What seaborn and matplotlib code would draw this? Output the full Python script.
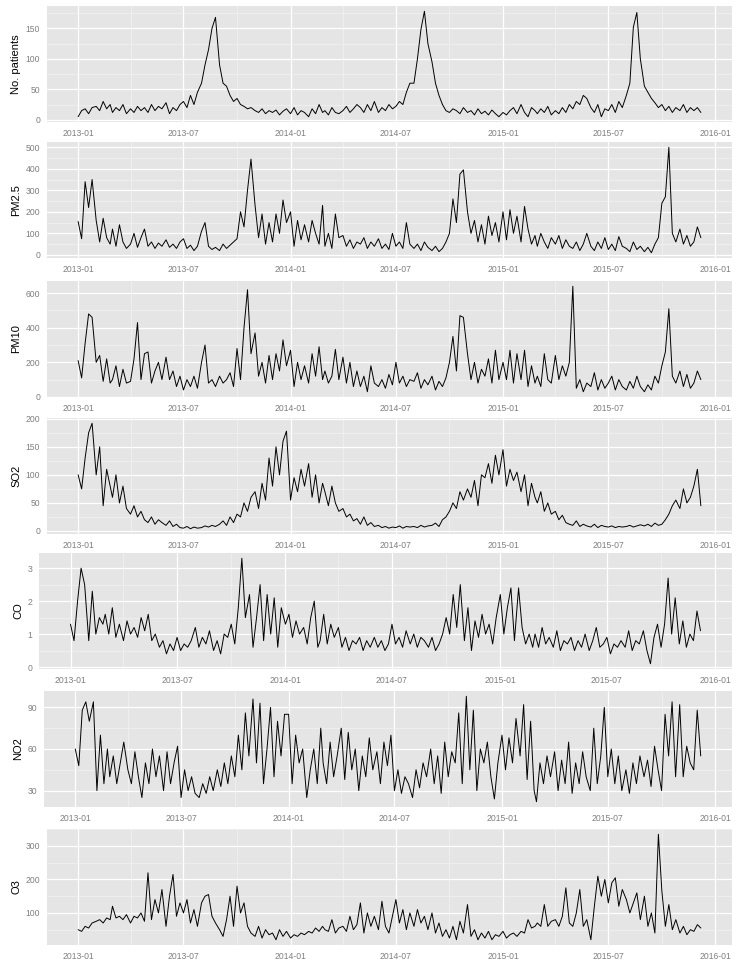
import matplotlib

matplotlib.use("Agg")

import matplotlib.dates as mdates
import matplotlib.pyplot as plt
import pandas as pd
import seaborn as sns
from matplotlib.ticker import MultipleLocator

# five readings per month (days 1, 7, 13, 19, 25), Jan 2013 .. early Dec 2015
MONTHS = pd.date_range("2013-01-01", "2015-12-01", freq="MS")
SAMPLE_DAYS = [1, 7, 13, 19, 25]

PATIENTS = [
    5, 15, 18, 10, 20, 22, 15, 30, 18, 25,
    12, 20, 15, 25, 10, 18, 12, 22, 15, 20,
    12, 25, 15, 22, 18, 28, 10, 20, 15, 25,
    30, 20, 40, 25, 45, 60, 90, 115, 150, 168,
    90, 60, 55, 40, 30, 35, 25, 22, 18, 20,
    15, 12, 18, 10, 15, 12, 16, 8, 14, 18,
    10, 20, 8, 15, 12, 5, 18, 10, 25, 12,
    15, 8, 20, 12, 10, 15, 22, 12, 18, 25,
    20, 12, 25, 15, 30, 12, 20, 15, 25, 18,
    22, 30, 25, 45, 60, 60, 100, 148, 178, 125,
    95, 60, 40, 25, 15, 12, 18, 15, 10, 20,
    12, 15, 8, 18, 10, 14, 8, 16, 10, 5,
    12, 8, 15, 20, 10, 25, 12, 5, 20, 15,
    10, 18, 12, 22, 8, 15, 10, 20, 12, 25,
    18, 30, 25, 40, 35, 20, 12, 25, 5, 18,
    15, 25, 12, 30, 20, 40, 60, 152, 176, 100,
    55, 45, 35, 28, 20, 25, 15, 22, 12, 20,
    15, 25, 12, 20, 15, 20, 12,
]

PM25 = [
    155, 75, 340, 220, 350, 160, 60, 170, 80, 50,
    120, 40, 140, 60, 30, 50, 100, 35, 80, 120,
    40, 60, 30, 55, 40, 70, 35, 50, 30, 60,
    75, 30, 45, 20, 40, 110, 150, 40, 25, 35,
    20, 50, 30, 45, 60, 75, 200, 130, 300, 445,
    230, 80, 190, 50, 150, 60, 190, 100, 255, 150,
    200, 40, 160, 70, 140, 60, 160, 100, 50, 230,
    40, 100, 30, 190, 80, 90, 40, 70, 30, 60,
    50, 80, 30, 60, 40, 75, 30, 50, 25, 100,
    40, 60, 30, 150, 50, 30, 50, 20, 60, 35,
    20, 40, 15, 30, 60, 100, 260, 150, 375, 395,
    200, 100, 160, 60, 140, 50, 180, 90, 150, 60,
    200, 70, 210, 100, 180, 60, 225, 120, 50, 90,
    40, 100, 60, 30, 80, 50, 90, 30, 70, 40,
    30, 60, 20, 50, 100, 40, 20, 60, 30, 80,
    25, 50, 20, 85, 40, 30, 15, 60, 25, 40,
    15, 35, 10, 50, 80, 240, 270, 500, 100, 60,
    120, 50, 90, 40, 60, 130, 80,
]

PM10 = [
    210, 110, 310, 480, 460, 200, 240, 90, 220, 80,
    100, 180, 60, 160, 80, 90, 220, 430, 100, 250,
    260, 80, 150, 200, 100, 230, 100, 150, 60, 120,
    40, 100, 60, 120, 50, 200, 300, 80, 100, 60,
    120, 80, 100, 140, 60, 280, 100, 400, 620, 250,
    370, 120, 200, 80, 240, 100, 250, 150, 330, 180,
    270, 60, 200, 100, 180, 80, 250, 120, 290, 100,
    150, 80, 120, 275, 100, 230, 80, 200, 60, 150,
    60, 120, 30, 180, 80, 60, 100, 50, 130, 70,
    200, 80, 120, 60, 100, 90, 140, 50, 100, 70,
    120, 40, 90, 60, 110, 200, 350, 150, 470, 460,
    250, 100, 200, 80, 160, 120, 220, 80, 270, 100,
    200, 100, 270, 80, 250, 100, 270, 60, 180, 80,
    120, 60, 250, 100, 80, 240, 100, 180, 120, 200,
    640, 50, 100, 30, 80, 60, 140, 40, 100, 50,
    80, 120, 40, 100, 60, 40, 90, 50, 120, 60,
    30, 70, 40, 120, 80, 180, 260, 510, 120, 80,
    150, 60, 130, 50, 80, 150, 100,
]

SO2 = [
    100, 75, 130, 175, 192, 100, 150, 45, 110, 80,
    60, 100, 50, 80, 40, 30, 45, 25, 35, 20,
    15, 25, 12, 20, 15, 10, 18, 8, 12, 6,
    5, 8, 4, 7, 5, 6, 9, 7, 10, 8,
    12, 18, 10, 25, 15, 30, 25, 50, 35, 60,
    70, 40, 85, 55, 130, 80, 150, 100, 160, 178,
    55, 95, 70, 110, 80, 120, 60, 100, 50, 85,
    70, 45, 80, 50, 35, 40, 25, 30, 18, 22,
    12, 25, 10, 15, 8, 10, 6, 8, 5, 7,
    6, 9, 5, 8, 7, 8, 6, 10, 7, 9,
    10, 14, 8, 20, 25, 35, 50, 40, 70, 55,
    75, 60, 90, 45, 100, 95, 120, 85, 135, 100,
    145, 80, 110, 90, 105, 70, 100, 45, 85, 60,
    50, 70, 35, 50, 30, 35, 20, 28, 15, 12,
    10, 18, 8, 12, 9, 7, 12, 6, 10, 8,
    7, 9, 6, 8, 7, 8, 10, 7, 9, 11,
    9, 12, 8, 14, 10, 12, 20, 30, 45, 55,
    40, 75, 50, 60, 80, 110, 45,
]

CO = [
    1.3, 0.8, 2.0, 3.0, 2.5, 0.8, 2.3, 1.0, 1.5, 1.3,
    1.6, 1.0, 1.8, 0.9, 1.3, 0.8, 1.4, 1.0, 1.2, 0.9,
    1.5, 1.1, 1.6, 0.8, 1.0, 0.6, 0.8, 0.4, 0.7, 0.5,
    0.9, 0.5, 0.7, 0.6, 0.8, 1.2, 0.6, 0.9, 0.7, 1.1,
    0.5, 0.8, 0.4, 1.0, 0.9, 1.3, 0.7, 1.8, 3.3, 1.5,
    2.2, 0.6, 1.5, 2.5, 0.8, 2.2, 1.0, 2.1, 0.6, 1.8,
    1.3, 1.6, 0.9, 1.4, 1.0, 1.2, 0.7, 1.5, 2.0, 0.6,
    0.8, 1.6, 0.7, 1.3, 0.9, 1.2, 0.6, 0.9, 0.5, 0.8,
    0.7, 0.9, 0.5, 0.8, 0.6, 0.9, 0.6, 0.8, 0.5, 0.7,
    1.3, 0.7, 0.9, 0.6, 1.1, 0.7, 1.0, 0.6, 0.9, 0.8,
    0.6, 0.9, 0.5, 0.7, 1.0, 1.5, 1.0, 2.2, 1.2, 2.5,
    0.8, 1.8, 0.5, 1.4, 0.9, 1.6, 1.0, 1.3, 0.7, 1.5,
    2.2, 1.0, 1.8, 2.4, 0.8, 2.4, 1.2, 0.7, 1.0, 0.6,
    1.0, 0.6, 1.2, 0.7, 0.9, 0.6, 1.1, 0.5, 0.8, 0.7,
    0.9, 0.5, 0.8, 0.6, 1.0, 0.5, 0.8, 1.2, 0.6, 0.7,
    0.9, 0.4, 0.7, 0.6, 0.8, 0.6, 1.1, 0.5, 0.8, 0.7,
    1.1, 0.5, 0.1, 0.9, 1.3, 0.6, 1.3, 2.7, 1.0, 2.1,
    0.7, 1.4, 0.6, 1.0, 0.8, 1.7, 1.1,
]

NO2 = [
    60, 48, 88, 94, 80, 94, 30, 70, 35, 60,
    40, 55, 35, 50, 65, 45, 35, 58, 40, 25,
    50, 35, 60, 40, 55, 30, 58, 35, 50, 62,
    25, 45, 30, 40, 28, 25, 35, 28, 40, 30,
    45, 33, 50, 35, 55, 40, 70, 45, 86, 55,
    96, 50, 93, 35, 60, 90, 40, 80, 55, 85,
    85, 35, 70, 50, 60, 25, 45, 60, 35, 75,
    50, 35, 65, 40, 55, 75, 38, 72, 45, 60,
    30, 55, 40, 68, 45, 58, 35, 65, 48, 70,
    30, 45, 28, 40, 35, 25, 45, 32, 50, 40,
    60, 35, 55, 28, 65, 40, 58, 50, 86, 35,
    98, 45, 88, 30, 60, 50, 65, 40, 24, 50,
    70, 45, 68, 50, 82, 55, 92, 38, 80, 30,
    22, 50, 35, 55, 40, 58, 30, 52, 35, 65,
    28, 50, 35, 58, 40, 30, 75, 35, 55, 90,
    40, 60, 35, 55, 30, 45, 28, 50, 35, 55,
    40, 52, 33, 62, 45, 30, 85, 55, 94, 40,
    92, 40, 62, 50, 45, 88, 55,
]

O3 = [
    50, 45, 60, 55, 70, 75, 80, 70, 85, 80,
    120, 85, 90, 80, 95, 70, 90, 85, 100, 75,
    220, 80, 140, 100, 170, 60, 150, 215, 90, 130,
    100, 140, 70, 110, 60, 130, 150, 155, 90, 70,
    50, 30, 80, 150, 60, 180, 100, 130, 60, 40,
    30, 60, 25, 50, 35, 40, 20, 50, 30, 45,
    25, 35, 30, 40, 35, 45, 40, 55, 45, 60,
    50, 45, 80, 40, 55, 60, 45, 90, 50, 65,
    130, 40, 100, 60, 90, 50, 135, 60, 40, 90,
    140, 70, 110, 50, 100, 60, 110, 70, 90, 50,
    100, 40, 70, 30, 50, 25, 60, 20, 75, 40,
    125, 30, 50, 20, 40, 25, 45, 20, 35, 30,
    45, 25, 35, 40, 30, 45, 40, 80, 55, 60,
    70, 60, 125, 60, 75, 80, 60, 90, 175, 70,
    60, 100, 170, 60, 80, 20, 120, 210, 150, 200,
    130, 190, 205, 120, 170, 140, 100, 130, 160, 80,
    150, 60, 100, 40, 335, 165, 60, 125, 50, 80,
    40, 60, 35, 50, 45, 65, 55,
]

SERIES = [
    ("No. patients", PATIENTS, 50),
    ("PM2.5", PM25, 100),
    ("PM10", PM10, 200),
    ("SO2", SO2, 50),
    ("CO", CO, 1),
    ("NO2", NO2, 30),
    ("O3", O3, 100),
]

# layout in pixels of the 740x961 output
FIG_W, FIG_H = 740, 961
PANEL_TOPS = [6, 142, 281, 418, 553, 691, 829]
PANEL_LEFTS = [47, 47, 47, 47, 39, 44, 47]
PANEL_RIGHT = 732
PANEL_HEIGHT = 116


def expanded(lo, hi, frac=0.05):
    span = hi - lo
    return lo - span * frac, hi + span * frac


def main() -> None:
    sns.set_theme(style="darkgrid")
    plt.rcParams["font.family"] = ["Liberation Sans", "DejaVu Sans"]

    dates = [month + pd.Timedelta(days=day - 1) for month in MONTHS for day in SAMPLE_DAYS]
    data = pd.DataFrame({"date": dates[:len(PATIENTS)]})
    for name, values, _ in SERIES:
        data[name] = values

    fig = plt.figure(figsize=(FIG_W / 100, FIG_H / 100), dpi=100)
    fig.patch.set_facecolor("white")
    xlo, xhi = expanded(mdates.date2num(data["date"].min()), mdates.date2num(data["date"].max()))

    for (name, values, step), top, left in zip(SERIES, PANEL_TOPS, PANEL_LEFTS):
        axis = fig.add_axes([
            left / FIG_W,
            1 - (top + PANEL_HEIGHT) / FIG_H,
            (PANEL_RIGHT - left) / FIG_W,
            PANEL_HEIGHT / FIG_H,
        ])
        axis.set_facecolor("#E5E5E5")
        sns.lineplot(data=data, x="date", y=name, ax=axis, color="black", linewidth=0.7)

        axis.set_xlim(xlo, xhi)
        axis.set_ylim(*expanded(min(values), max(values)))
        axis.xaxis.set_major_locator(mdates.MonthLocator(bymonth=[1, 7]))
        axis.xaxis.set_minor_locator(mdates.MonthLocator(bymonth=[4, 10]))
        axis.xaxis.set_major_formatter(mdates.DateFormatter("%Y-%m"))
        axis.yaxis.set_major_locator(MultipleLocator(step))
        axis.yaxis.set_minor_locator(MultipleLocator(step / 2))

        axis.grid(which="major", color="white", linewidth=0.9)
        axis.grid(which="minor", color="#F2F2F2", linewidth=0.5)
        axis.set_axisbelow(True)
        for spine in axis.spines.values():
            spine.set_visible(False)

        axis.tick_params(which="major", length=3, width=0.6, color="#7F7F7F",
                         labelcolor="#7F7F7F", labelsize=6.2, pad=2)
        axis.tick_params(which="minor", length=0)
        axis.set_xlabel("")
        axis.set_ylabel(name, fontsize=8, color="black", labelpad=3)

    fig.savefig("out.png", dpi=100, facecolor="white")
    plt.close(fig)


if __name__ == "__main__":
    main()
